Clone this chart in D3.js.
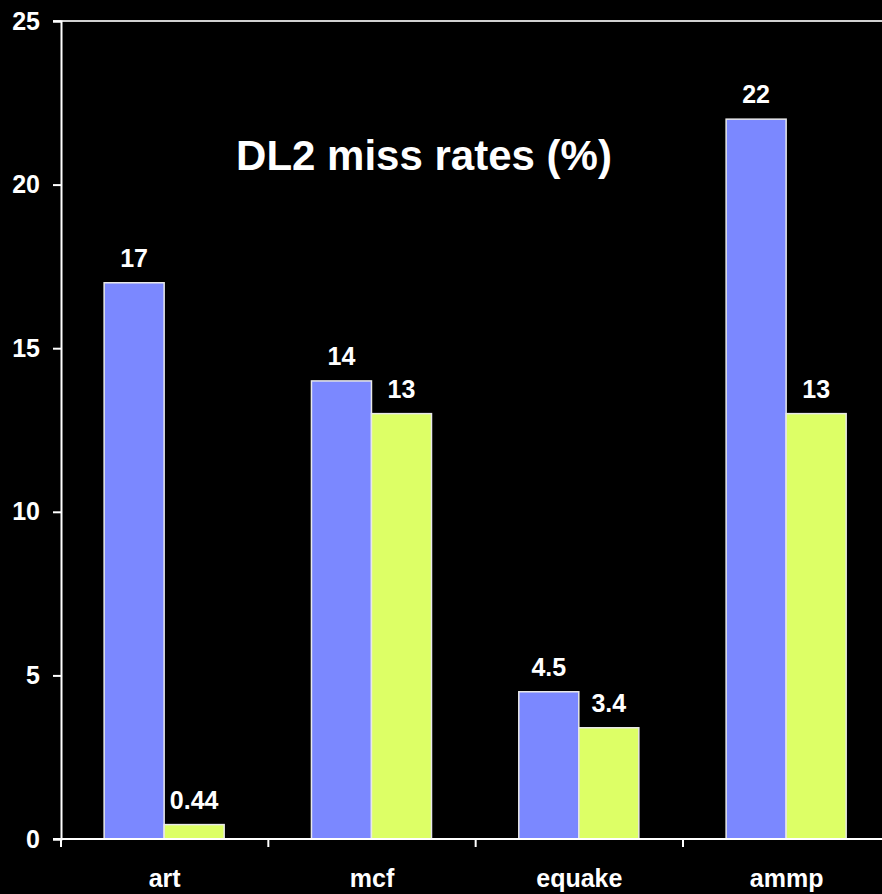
<!DOCTYPE html>
<html>
<head>
<meta charset="utf-8">
<script src="https://cdn.jsdelivr.net/npm/d3@7"></script>
<style>
  html, body { margin: 0; padding: 0; background: #000; }
  svg { display: block; }
  text { font-family: "Liberation Sans", Arial, sans-serif; font-weight: bold; fill: #fff; }
</style>
</head>
<body>
<svg id="chart" width="882" height="894"></svg>
<script>
// Benchmarks and the two miss-rate series (%)
const categories = ["art", "mcf", "equake", "ammp"];
const seriesNames = ["before", "after"];
const seriesBefore = [17, 14, 4.5, 22];
const seriesAfter = [0.44, 13, 3.4, 13];
const valueLabelsBefore = ["17", "14", "4.5", "22"];
const valueLabelsAfter = ["0.44", "13", "3.4", "13"];
const yTicks = [0, 5, 10, 15, 20, 25];
const titleText = "DL2 miss rates (%)";

const colors = { before: "#7b88ff", after: "#ddff66" };

const svg = d3.select("#chart");
const plotLeft = 61, plotTop = 21, plotBottom = 839;
const bandW = 207.33;

const x = d3.scaleBand()
  .domain(categories)
  .range([plotLeft, plotLeft + bandW * categories.length])
  .padding(0);

const xInner = d3.scaleBand()
  .domain(seriesNames)
  .range([x.bandwidth() * 0.208, x.bandwidth() * 0.787])
  .padding(0);

const y = d3.scaleLinear().domain([0, 25]).range([plotBottom, plotTop]);

const rows = categories.map((c, i) => ({
  cat: c,
  values: [
    { key: "before", v: seriesBefore[i], label: valueLabelsBefore[i] },
    { key: "after", v: seriesAfter[i], label: valueLabelsAfter[i] }
  ]
}));

// top frame line
svg.append("line")
  .attr("x1", plotLeft - 8).attr("x2", 882)
  .attr("y1", y(25)).attr("y2", y(25))
  .attr("stroke", "#d0d0d0").attr("stroke-width", 2);

// bars
const groups = svg.append("g").selectAll("g")
  .data(rows).join("g")
  .attr("transform", d => `translate(${x(d.cat)},0)`);

groups.selectAll("rect")
  .data(d => d.values).join("rect")
  .attr("x", d => xInner(d.key))
  .attr("y", d => y(d.v))
  .attr("width", xInner.bandwidth())
  .attr("height", d => y(0) - y(d.v))
  .attr("fill", d => colors[d.key])
  .attr("stroke", "#e8e8e8")
  .attr("stroke-width", 1.5);

groups.selectAll("text.val")
  .data(d => d.values).join("text")
  .attr("class", "val")
  .attr("x", d => xInner(d.key) + xInner.bandwidth() / 2)
  .attr("y", d => y(d.v) - 16)
  .attr("text-anchor", "middle")
  .style("font-size", "25px")
  .text(d => d.label);

// y axis
const yAxis = svg.append("g")
  .attr("transform", `translate(${plotLeft},0)`)
  .call(d3.axisLeft(y).tickValues(yTicks).tickSize(8).tickPadding(13));
yAxis.select(".domain").attr("stroke", "#fff").attr("stroke-width", 2);
yAxis.selectAll(".tick line").attr("stroke", "#fff").attr("stroke-width", 2);
yAxis.selectAll(".tick text")
  .attr("fill", "#fff")
  .style("font-size", "25px")
  .style("font-family", "'Liberation Sans', Arial, sans-serif")
  .style("font-weight", "bold");

// x axis with tick marks at band boundaries
const xAxisG = svg.append("g").attr("transform", `translate(0,${plotBottom})`);
xAxisG.append("line")
  .attr("x1", plotLeft - 8).attr("x2", 882)
  .attr("y1", 0).attr("y2", 0)
  .attr("stroke", "#fff").attr("stroke-width", 2);
const boundaries = categories.map(c => x(c)).concat([x(categories[categories.length - 1]) + x.bandwidth()]);
xAxisG.selectAll("line.tk")
  .data(boundaries).join("line")
  .attr("class", "tk")
  .attr("x1", d => d).attr("x2", d => d)
  .attr("y1", 0).attr("y2", 8)
  .attr("stroke", "#fff").attr("stroke-width", 2);
xAxisG.selectAll("text.cat")
  .data(categories).join("text")
  .attr("class", "cat")
  .attr("x", d => x(d) + x.bandwidth() / 2)
  .attr("y", 48)
  .attr("text-anchor", "middle")
  .style("font-size", "25px")
  .text(d => d);

// title
svg.append("text")
  .attr("x", 424)
  .attr("y", 170)
  .attr("text-anchor", "middle")
  .style("font-size", "42px")
  .text(titleText);
</script>
</body>
</html>
